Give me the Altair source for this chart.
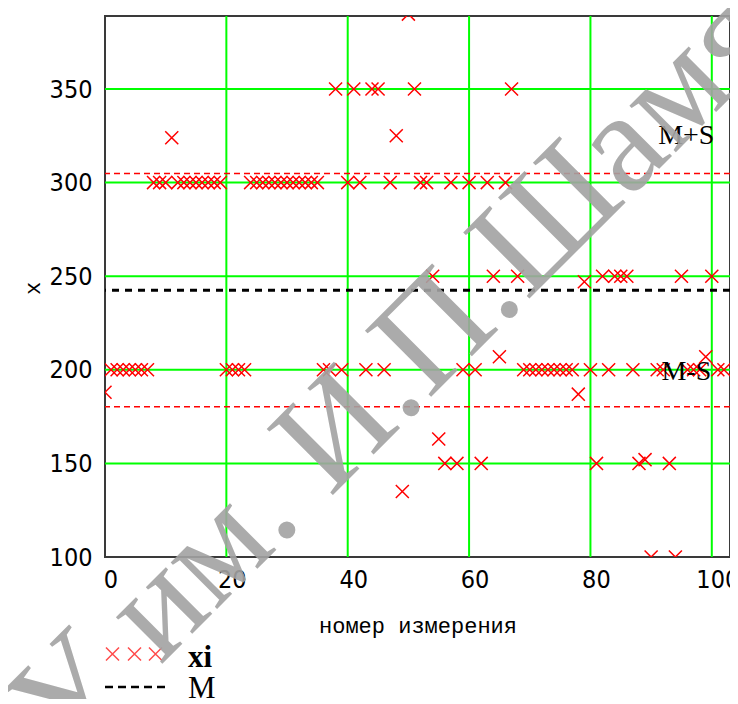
import altair as alt
import pandas as pd

# ---------------- data ----------------
measurement = list(range(103))
xi = [188,
      200, 200, 200, 200, 200, 200, 200,
      300, 300, 300, 324,
      300, 300, 300, 300, 300, 300, 300, 300,
      200, 200, 200, 200,
      300, 300, 300, 300, 300, 300, 300, 300, 300, 300, 300, 300,
      200, 200, 350, 200, 300, 350, 300, 200, 350, 350, 200, 300, 325, 135, 390,
      350, 300, 300, 250, 163, 150, 300, 150, 200, 300, 200, 150, 300, 250, 207,
      300, 350, 250,
      200, 200, 200, 200, 200, 200, 200, 200, 200,
      187, 247, 200, 150, 250, 200, 250, 250, 250, 200, 150, 152, 100, 200, 200,
      150, 100, 250, 200, 200, 200, 207, 250, 200, 200]
M_value = 242.5
S_value = 62.3
x_ticks = [0, 20, 40, 60, 80, 100]
y_ticks = [100, 150, 200, 250, 300, 350]
x_grid = [20, 40, 60, 80, 100]
y_grid = [150, 200, 250, 300, 350]
band_labels = ["M+S", "M-S"]
band_label_x = [95.8, 95.8]
band_label_y = [325, 199]
legend_labels = ["xi", "M"]
watermark_a = "МГПУ им."
watermark_b = "И.П.Шамякина"

df = pd.DataFrame({"i": measurement, "xi": xi})
mean_df = pd.DataFrame({"xi": [M_value]})
band_df = pd.DataFrame({"xi": [M_value + S_value, M_value - S_value]})
lab_df = pd.DataFrame({"t": band_labels, "i": band_label_x, "xi": band_label_y})
xtick_df = pd.DataFrame({"i": x_ticks, "t": [str(v) for v in x_ticks]})

W, H = 625, 541
MONO = "Liberation Mono"
SERIF = "Liberation Serif"
NARROW = "Liberation Sans Narrow, Arial Narrow, DejaVu Sans Condensed, Liberation Sans"
CROSS = "M-1,-1L1,1M-1,1L1,-1"
RED = "#ff0000"
GREEN = "#00ff00"

xs = alt.Scale(domain=[0, 103], nice=False, zero=False)
ys = alt.Scale(domain=[100, 389], nice=False, zero=False)

x_axis = alt.Axis(values=x_ticks, grid=False, domain=False, ticks=False,
                  labels=False,
                  title="номер измерения", titleFont=MONO, titleFontSize=22,
                  titleFontWeight="normal", titleColor="black",
                  titleY=68, titleBaseline="middle")
y_axis = alt.Axis(values=y_ticks, grid=False, domain=False, ticks=False,
                  labelFont=NARROW, labelFontSize=25, labelColor="black",
                  labelPadding=13, labelFlush=False, labelOverlap=False,
                  title="x", titleFont=MONO, titleFontSize=22,
                  titleFontWeight="normal", titleColor="black",
                  titleX=-73, titleY=272, titleAngle=270,
                  titleAlign="center", titleBaseline="middle")


def X(field):
    return alt.X(field, scale=xs, axis=x_axis)


def Y(field):
    return alt.Y(field, scale=ys, axis=y_axis)


vgrid = alt.Chart(pd.DataFrame({"i": x_grid})).mark_rule(
    color=GREEN, strokeWidth=2).encode(x=X("i:Q"))
hgrid = alt.Chart(pd.DataFrame({"xi": y_grid})).mark_rule(
    color=GREEN, strokeWidth=2).encode(y=Y("xi:Q"))

band_lines = alt.Chart(band_df).mark_rule(
    color=RED, strokeWidth=1.5, strokeDash=[6, 4]).encode(y=Y("xi:Q"))
mean_line = alt.Chart(mean_df).mark_rule(
    color="black", strokeWidth=3, strokeDash=[7, 6]).encode(y=Y("xi:Q"))

points = alt.Chart(df).mark_point(
    shape=CROSS, filled=False, color=RED, strokeWidth=1.5, size=170, clip=True,
    opacity=1).encode(x=X("i:Q"), y=Y("xi:Q"))

band_text = alt.Chart(lab_df).mark_text(
    font=SERIF, fontSize=28, color="black").encode(
    x=X("i:Q"), y=Y("xi:Q"), text="t:N")

xtick_text = alt.Chart(xtick_df).mark_text(
    font=NARROW, fontSize=25, color="black", baseline="middle", dx=6).encode(
    x=X("i:Q"), y=alt.value(H + 23), text="t:N")

# legend (drawn below the plot)
legend_layers = []
for px in [7.5, 29.5, 50.5]:
    legend_layers.append(
        alt.Chart(pd.DataFrame({"a": [0]})).mark_point(
            shape=CROSS, filled=False, color=RED, strokeWidth=1.5, size=170
        ).encode(x=alt.value(px), y=alt.value(638)))
legend_layers.append(
    alt.Chart(pd.DataFrame({"a": [0]})).mark_rule(
        color="black", strokeWidth=2.5, strokeDash=[8, 5]
    ).encode(x=alt.value(0), x2=alt.value(60), y=alt.value(671)))
legend_layers.append(
    alt.Chart(pd.DataFrame({"t": [legend_labels[0]]})).mark_text(
        font=SERIF, fontSize=31, fontWeight="bold", color="black", align="left",
        baseline="alphabetic").encode(x=alt.value(83), y=alt.value(651), text="t:N"))
legend_layers.append(
    alt.Chart(pd.DataFrame({"t": [legend_labels[1]]})).mark_text(
        font=SERIF, fontSize=31, color="black", align="left",
        baseline="alphabetic").encode(x=alt.value(83), y=alt.value(682), text="t:N"))

wm_a = alt.Chart(pd.DataFrame({"t": [watermark_a]})).mark_text(
    angle=315, align="right", baseline="alphabetic", font=SERIF, fontSize=143,
    color="#a3a3a3", opacity=0.9).encode(x=alt.value(199), y=alt.value(506), text="t:N")
wm_b = alt.Chart(pd.DataFrame({"t": [watermark_b]})).mark_text(
    angle=315, align="left", baseline="alphabetic", font=SERIF, fontSize=143,
    color="#a3a3a3", opacity=0.9).encode(x=alt.value(225), y=alt.value(482), text="t:N")

chart = alt.layer(
    vgrid, hgrid, band_lines, mean_line, points, band_text, xtick_text,
    *legend_layers, wm_a, wm_b
).properties(
    width=W, height=H,
    autosize=alt.AutoSizeParams(type="none"),
    padding={"left": 97, "top": 8, "right": 0, "bottom": 142},
    background="white",
).configure_view(
    stroke="#3a3a3a", strokeWidth=2
)

chart.save("out.html", embed_options={"renderer": "svg", "actions": False})
